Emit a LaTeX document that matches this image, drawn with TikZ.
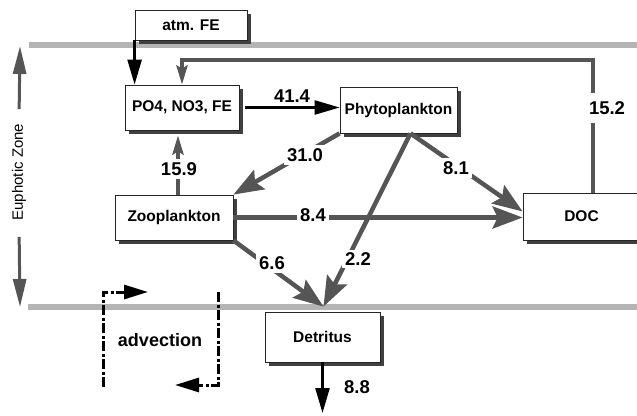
\documentclass[tikz,border=0pt]{standalone}
\usepackage{fontspec}
\setmainfont{Liberation Sans}
\usetikzlibrary{arrows.meta,calc,shadows}
\definecolor{flux-gray}{RGB}{85,85,85}
\definecolor{layer-gray}{RGB}{180,180,180}
\definecolor{shade-gray}{RGB}{64,64,64}

\begin{document}
\begin{tikzpicture}[x=1pt, y=-1pt,
    box/.style={draw=black!85, line width=0.8pt, fill=white, inner sep=0pt, font=\fontsize{15.5}{18}\selectfont\bfseries,
      drop shadow={shadow xshift=4pt, shadow yshift=-4pt, fill=shade-gray, opacity=1}},
    num/.style={fill=white, inner sep=3pt, font=\fontsize{18.5}{20}\selectfont\bfseries},
    layer/.style={layer-gray, line width=6pt},
    flow/.style={flux-gray, line width=4.5pt, -{Stealth[length=30pt, width=22pt, inset=5pt]}},
    back/.style={flux-gray, line width=4pt, -{Stealth[length=19pt, width=11pt, inset=3pt]}},
    input/.style={black, line width=2.5pt, -{Stealth[length=25pt, width=14pt, inset=0pt]}},
    zone/.style={flux-gray, line width=3pt, -{Stealth[length=28pt, width=13pt, inset=0pt]}},
    adv/.style={black, line width=3pt, dash pattern={on 10pt off 2.5pt on 3pt off 2.5pt}, -{Stealth[length=24pt, width=14pt, inset=0pt]}}]
  \useasboundingbox (0,0) rectangle (637,415);
  \draw[layer] (29,45) -- (637,45);
  \draw[layer] (28,307) -- (637,307);

  \node[box, minimum width=112pt, minimum height=30pt] (atm) at (191,25) {atm. FE};
  \node[box, minimum width=114pt, minimum height=45pt] (nut) at (182,107.5) {PO4, NO3, FE};
  \node[box, minimum width=117pt, minimum height=46pt] (phyto) at (398.5,110) {Phytoplankton};
  \node[box, minimum width=118pt, minimum height=45pt] (zoo) at (174,217.5) {Zooplankton};
  \node[box, minimum width=117pt, minimum height=47pt] (doc) at (581.5,216.5) {DOC};
  \node[box, minimum width=115pt, minimum height=50pt] (det) at (322.5,337) {Detritus};

  \node[rotate=90, font=\fontsize{15}{17}\selectfont] (ez) at (19,172) {Euphotic Zone};
  \coordinate (eztop) at (20,46);
  \coordinate (ezbot) at (20,307);
  \draw[zone, shorten <=11pt] (ez.east) -- (eztop);
  \draw[zone, shorten <=13pt] (ez.west) -- (ezbot);

  \coordinate (fbk) at (593,60);
  \coordinate (sink) at (322.5,413);
  \draw[input] (atm.south west) -- (atm.south west |- nut.north);
  \draw[input, shorten <=6pt] (nut.east) -- (nut.east -| phyto.west);
  \draw[input] (det.south) -- (sink);
  \draw[back] (doc.north -| fbk) -- (fbk) -| (nut.north);
  \draw[back, shorten >=5pt] ($(zoo.north)+(4,0)$) -- ($(nut.south)+(-4,0)$);
  \draw[flow] (phyto.south west) -- (zoo.north east);
  \draw[flow] (zoo.east) -- (zoo.east -| doc.west);
  \draw[flow] ($(phyto.south)+(12,0)$) -- ($(doc.west)+(0,-5)$);
  \draw[flow] ($(phyto.south)+(12,0)$) -- ($(det.north)+(1,-5)$);
  \draw[flow] (zoo.south east) -- ($(det.north)+(1,-5)$);

  \node[num, fill=none] (n414) at (292,96) {41.4};
  \node[num] (n310) at (305,155) {31.0};
  \node[num] (n159) at (179,169) {15.9};
  \node[num] (n84) at (313,215) {8.4};
  \node[num] (n81) at (456,168) {8.1};
  \node[num] (n22) at (358,259) {2.2};
  \node[num] (n66) at (272,263) {6.6};
  \node[num, fill=none] (n88) at (357,387) {8.8};
  \node[num, inner ysep=8pt] (n152) at (607,108) {15.2};

  \node[font=\fontsize{18}{20}\selectfont\bfseries] (advtext) at (160,340) {advection};
  \coordinate (advin) at (103,387);
  \coordinate (advinend) at (148,292);
  \coordinate (advout) at (218,292);
  \coordinate (advoutend) at (175,385);
  \draw[adv] (advin) |- (advinend);
  \draw[adv] (advout) |- (advoutend);
\end{tikzpicture}
\end{document}
